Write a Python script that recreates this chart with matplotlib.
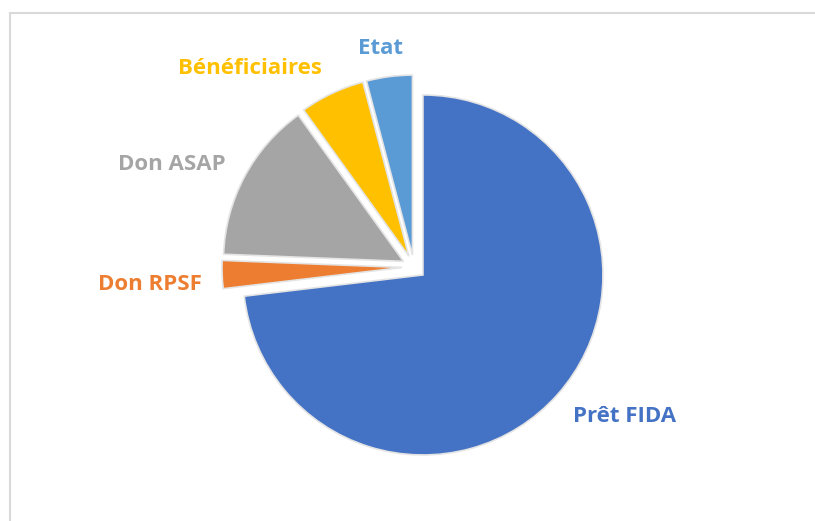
import numpy as np
import matplotlib
matplotlib.use('Agg')
import matplotlib.pyplot as plt
from matplotlib.patches import Rectangle

# data (share of financing, %)
labels = ['Prêt FIDA', 'Don RPSF', 'Don ASAP', 'Bénéficiaires', 'Etat']
values = [72.9, 2.5, 14.4, 5.8, 4.1]
colors = ['#4472C4', '#ED7D31', '#A5A5A5', '#FFC000', '#5B9BD5']

# label positions (pixels, from top-left)
label_pos = [(625, 416), (150, 284), (172, 165), (250, 69), (380, 48)]

W, H = 815, 521
fig = plt.figure(figsize=(W/100., H/100.), dpi=100)
ax = fig.add_axes([0, 0, 1, 1])

cx, cy, rad = 414, H - 267, 180
# note: explode is in data units here (pixels), not a fraction of radius
wedges, _ = ax.pie(values, colors=colors, startangle=90, counterclock=False,
                   explode=[12]*len(values), center=(cx, cy), radius=rad,
                   wedgeprops=dict(edgecolor='#e4e4e4', linewidth=1.2))

for lab, (px, py), col in zip(labels, label_pos, colors):
    ax.text(px, H - py, lab, color=col, fontsize=16, fontweight='bold',
            family='Open Sans', ha='center', va='center')

# chart area frame (partially visible)
ax.add_patch(Rectangle((10, -20), W + 20, H - 13 + 20, fill=False,
                       edgecolor='#d9d9d9', linewidth=1.5))

ax.set_xlim(0, W) ; ax.set_ylim(0, H)
ax.set_aspect('equal')
ax.axis('off')

fig.savefig('out.png', dpi=100)
